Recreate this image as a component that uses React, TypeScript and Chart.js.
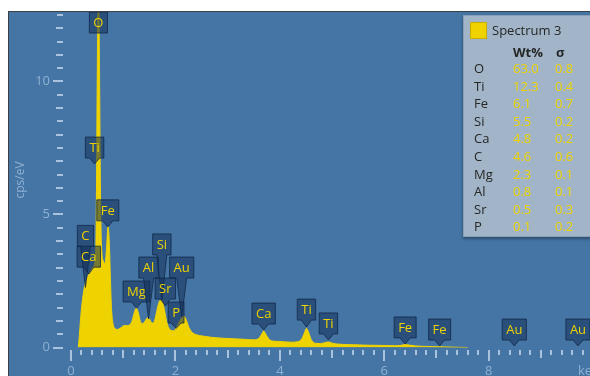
import React, { useEffect, useRef } from "react";
import { Chart, registerables } from "chart.js";
Chart.register(...registerables);

// Spectrum (keV, cps/eV)
const energies = [
  0.14, 0.16, 0.18, 0.2, 0.23, 0.26, 0.29, 0.33, 0.37, 0.41, 0.45, 0.47, 0.48, 0.49, 0.5, 0.51, 0.525, 0.54, 0.55, 0.56,
  0.575, 0.59, 0.62, 0.65, 0.68, 0.71, 0.735, 0.755, 0.775, 0.8, 0.84, 0.89, 0.94, 0.99, 1.04, 1.09, 1.13, 1.17, 1.21, 1.25,
  1.29, 1.33, 1.37, 1.42, 1.47, 1.51, 1.55, 1.59, 1.63, 1.67, 1.71, 1.75, 1.79, 1.83, 1.87, 1.92, 1.97, 2.02, 2.07, 2.12,
  2.17, 2.21, 2.26, 2.32, 2.4, 2.52, 2.7, 2.9, 3.1, 3.3, 3.5, 3.58, 3.64, 3.69, 3.74, 3.8, 3.88, 3.96, 4.05, 4.2,
  4.35, 4.42, 4.47, 4.51, 4.55, 4.6, 4.68, 4.78, 4.88, 4.93, 4.99, 5.1, 5.3, 5.6, 5.9, 6.2, 6.32, 6.4, 6.48, 6.6,
  6.8, 7.05, 7.3, 7.6,
];
const counts = [
  0, 0.45, 1.0, 1.45, 1.95, 2.3, 2.5, 2.7, 2.85, 3.0, 3.15, 3.5, 4.3, 6.5, 9.5, 11.8, 13.0, 11.8, 9.5, 6.8,
  4.5, 3.6, 3.25, 3.15, 3.7, 4.55, 3.9, 2.6, 1.5, 0.95, 0.72, 0.68, 0.72, 0.8, 0.83, 0.82, 0.86, 1.0, 1.3, 1.48,
  1.3, 0.98, 0.9, 1.0, 1.12, 1.05, 0.92, 0.95, 1.25, 1.6, 1.78, 1.72, 1.42, 1.0, 0.75, 0.64, 0.63, 0.75, 0.95, 1.12,
  1.17, 1.02, 0.75, 0.57, 0.48, 0.43, 0.38, 0.35, 0.33, 0.31, 0.29, 0.32, 0.46, 0.62, 0.47, 0.3, 0.24, 0.23, 0.22, 0.2,
  0.22, 0.33, 0.55, 0.72, 0.57, 0.3, 0.16, 0.15, 0.19, 0.21, 0.17, 0.13, 0.11, 0.09, 0.08, 0.07, 0.08, 0.11, 0.09, 0.06,
  0.04, 0.03, 0.015, 0,
];

// Peak markers
const peakLabels = ["O", "Ti", "Fe", "C", "Ca", "Mg", "Al", "Si", "Sr", "Au", "P", "Ca", "Ti", "Ti", "Fe", "Fe", "Au", "Au"];
const peakEnergies = [0.525, 0.452, 0.705, 0.277, 0.341, 1.254, 1.486, 1.74, 1.806, 2.12, 2.013, 3.69, 4.51, 4.93, 6.4, 7.06, 8.49, 9.71];
const peakTips = [11.82, 6.9, 4.53, 2.26, 2.76, 1.48, 1.07, 1.79, 1.56, 1.15, 0.72, 0.66, 0.77, 0.28, 0.13, 0.06, 0.06, 0.06];
const peakBoxBottoms = [11.82, 7.12, 4.76, 3.8, 3.02, 1.71, 2.61, 3.48, 1.82, 2.61, 0.92, 0.88, 1.03, 0.51, 0.36, 0.28, 0.28, 0.28];

// Quantification table
const seriesName = "Spectrum 3";
const legendElements = ["O", "Ti", "Fe", "Si", "Ca", "C", "Mg", "Al", "Sr", "P"];
const legendWt = ["63.0", "12.3", "6.1", "5.5", "4.8", "4.6", "2.3", "0.8", "0.5", "0.1"];
const legendSigma = ["0.8", "0.4", "0.7", "0.2", "0.2", "0.6", "0.1", "0.1", "0.3", "0.2"];

// Axes
const xTickLabels = [0, 2, 4, 6, 8];
const yTickLabels = [0, 5, 10];
const xTitle = "keV";
const yTitle = "cps/eV";

const FONT = "'Open Sans', 'Noto Sans', sans-serif";
const YELLOW = "#efd300";
const TICK = "#a9c2dd";
const TICKLABEL = "#8fb0d3";

const overlayPlugin = {
  id: "overlay",
  afterDatasetsDraw(chart: any) {
    const { ctx, scales } = chart;
    const x = scales.x;
    const y = scales.y;
    const x0 = x.getPixelForValue(0);
    const y0 = y.getPixelForValue(0);
    ctx.save();
    // x ticks every 0.2 keV
    ctx.fillStyle = TICK;
    for (let i = 0; i <= 50; i++) {
      const px = Math.round(x.getPixelForValue(i * 0.2));
      if (px > chart.width + 2) break;
      const len = i % 10 === 0 ? 11 : i % 5 === 0 ? 8 : 5;
      ctx.fillRect(px - 1, Math.round(y0) + 2, 2, len);
    }
    // y ticks every 0.5
    for (let j = 0; j <= 25; j++) {
      const py = Math.round(y.getPixelForValue(j * 0.5));
      if (py < 0) break;
      const len = j % 10 === 0 ? 10 : j % 2 === 0 ? 7 : 6;
      ctx.fillRect(Math.round(x0) - 8 - len, py - 1, len, 2);
    }
    // tick labels
    ctx.fillStyle = TICKLABEL;
    ctx.font = `13px ${FONT}`;
    ctx.textBaseline = "middle";
    ctx.textAlign = "center";
    xTickLabels.forEach((v) => {
      ctx.fillText(String(v), x.getPixelForValue(v), y0 + 24);
    });
    ctx.textAlign = "left";
    ctx.fillText(xTitle, 569, y0 + 24);
    ctx.textAlign = "right";
    yTickLabels.forEach((v) => {
      ctx.fillText(String(v), x0 - 21, y.getPixelForValue(v));
    });
    // y title
    ctx.save();
    ctx.translate(12, 168);
    ctx.rotate(-Math.PI / 2);
    ctx.textAlign = "center";
    ctx.font = `12px ${FONT}`;
    ctx.fillText(yTitle, 0, 0);
    ctx.restore();

    // peak markers
    ctx.font = `13px ${FONT}`;
    const h = 21;
    peakLabels.forEach((lab, k) => {
      const cx = x.getPixelForValue(peakEnergies[k]);
      const tipY = y.getPixelForValue(peakTips[k]);
      const bottom = y.getPixelForValue(peakBoxBottoms[k]);
      const w = ctx.measureText(lab).width + 8;
      const l = cx - w / 2;
      const r = cx + w / 2;
      const t = bottom - h;
      ctx.beginPath();
      ctx.moveTo(l, t);
      ctx.lineTo(r, t);
      ctx.lineTo(r, bottom);
      if (tipY - bottom > 1) {
        ctx.lineTo(cx + 5, bottom);
        ctx.lineTo(cx, tipY);
        ctx.lineTo(cx - 5, bottom);
      }
      ctx.lineTo(l, bottom);
      ctx.closePath();
      ctx.fillStyle = "rgba(18, 48, 88, 0.55)";
      ctx.fill();
      ctx.strokeStyle = "rgba(16, 38, 70, 0.75)";
      ctx.lineWidth = 1;
      ctx.stroke();
      ctx.fillStyle = YELLOW;
      ctx.textAlign = "center";
      ctx.textBaseline = "middle";
      ctx.fillText(lab, cx, t + h / 2 + 0.5);
    });
    ctx.restore();
  },
};

export default function App() {
  const ref = useRef<HTMLCanvasElement>(null);
  useEffect(() => {
    if (!ref.current) return;
    const chart = new Chart(ref.current, {
      type: "line",
      data: {
        datasets: [
          {
            label: seriesName,
            data: energies.map((e, i) => ({ x: e, y: counts[i] })),
            borderColor: YELLOW,
            backgroundColor: YELLOW,
            borderWidth: 1,
            pointRadius: 0,
            fill: "origin",
            cubicInterpolationMode: "monotone",
          },
        ],
      },
      options: {
        animation: false,
        responsive: false,
        layout: { padding: { left: 62, right: 0, top: 0, bottom: 28.5 } },
        plugins: { legend: { display: false }, tooltip: { enabled: false } },
        scales: {
          x: { type: "linear", min: 0, max: 9.94, display: false },
          y: { type: "linear", min: 0, max: 12.61, display: false },
        },
      },
      plugins: [overlayPlugin],
    });
    return () => chart.destroy();
  }, []);

  const rowTop = (i: number) => 52 + i * 17.6 - 9;
  const txt: React.CSSProperties = { position: "absolute", lineHeight: "18px", fontSize: 13, whiteSpace: "nowrap" };

  return (
    <div style={{ position: "fixed", left: 8, top: 11, width: 582, height: 365 }}>
      <div
        style={{
          position: "relative",
          width: 582,
          height: 365,
          boxSizing: "border-box",
          borderTop: "1px solid #3b4047",
          borderLeft: "1px solid #3b4047",
          background: "#4575a4",
          overflow: "hidden",
          fontFamily: FONT,
        }}
      >
        <canvas ref={ref} width={581} height={364} style={{ display: "block", position: "absolute", left: 0, top: 0 }} />
        <div
          style={{
            position: "absolute",
            left: 454,
            top: 3,
            width: 140,
            height: 220,
            background: "#a2b5c8",
            border: "1px solid #8a9fb4",
            boxShadow: "0 2px 3px rgba(0,0,0,0.35)",
            color: "#262626",
          }}
        >
          <div style={{ position: "absolute", left: 6, top: 6, width: 15, height: 15, background: YELLOW, border: "1px solid #c9ae00" }} />
          <span style={{ ...txt, left: 28, top: 14 - 9 }}>{seriesName}</span>
          <span style={{ ...txt, left: 49, top: 36 - 9, fontWeight: 700 }}>Wt%</span>
          <span style={{ ...txt, left: 92, top: 36 - 9, fontWeight: 700 }}>σ</span>
          {legendElements.map((el, i) => (
            <React.Fragment key={i}>
              <span style={{ ...txt, left: 10, top: rowTop(i) }}>{el}</span>
              <span style={{ ...txt, left: 49, top: rowTop(i), color: "#ecd300" }}>{legendWt[i]}</span>
              <span style={{ ...txt, left: 91, top: rowTop(i), color: "#ecd300" }}>{legendSigma[i]}</span>
            </React.Fragment>
          ))}
        </div>
      </div>
    </div>
  );
}
